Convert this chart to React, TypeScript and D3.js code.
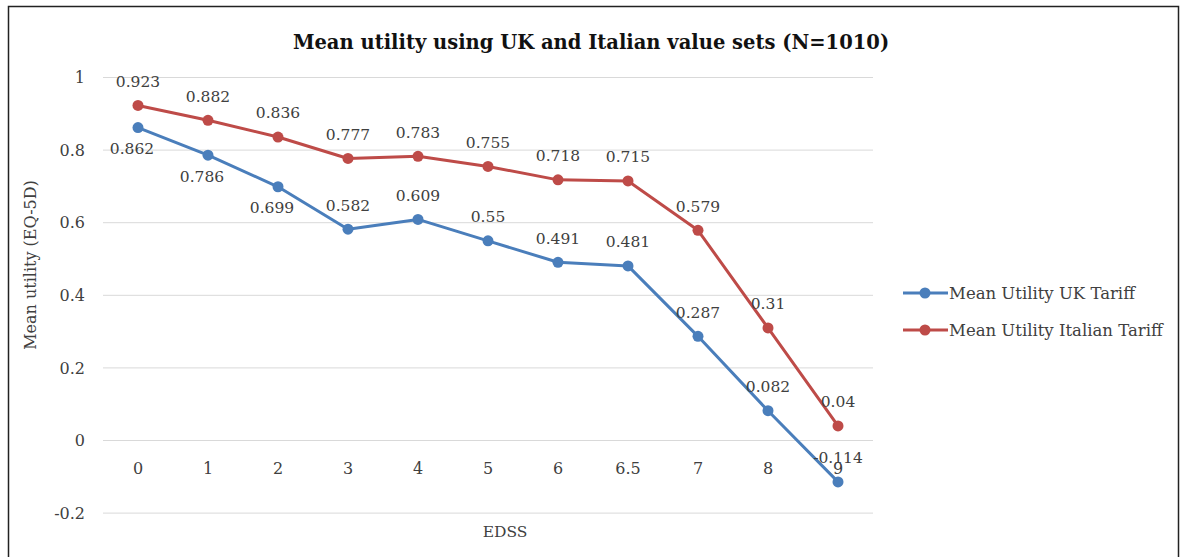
import React from "react";
import * as d3 from "d3";

const categories = ["0", "1", "2", "3", "4", "5", "6", "6.5", "7", "8", "9"];
const ukValues = [0.862, 0.786, 0.699, 0.582, 0.609, 0.55, 0.491, 0.481, 0.287, 0.082, -0.114];
const italianValues = [0.923, 0.882, 0.836, 0.777, 0.783, 0.755, 0.718, 0.715, 0.579, 0.31, 0.04];
const yTicks = [-0.2, 0, 0.2, 0.4, 0.6, 0.8, 1];
const ukBelowCategories = ["0", "1", "2"];

const W = 1186;
const H = 557;
const FONT = "'DejaVu Serif', serif";
const TEXT = "#404040";
const BLUE = "#4A7EBB";
const RED = "#BE4B48";

export default function App() {
  const x = d3.scaleBand().domain(categories).range([103, 873]);
  const y = d3.scaleLinear().domain([0, 1]).range([440.5, 77.5]);
  const cx = (c: string) => (x(c) as number) + x.bandwidth() / 2;
  const line = d3
    .line<number>()
    .x((_, i) => cx(categories[i]))
    .y((d) => y(d));

  const series = [
    { name: "Mean Utility UK Tariff", values: ukValues, color: BLUE },
    { name: "Mean Utility Italian Tariff", values: italianValues, color: RED },
  ];

  return (
    <div style={{ position: "absolute", left: 0, top: 0 }}>
      <svg width={W} height={H} style={{ display: "block", background: "#fff" }}>
        <rect x={8.5} y={6.5} width={1170} height={600} fill="#fff" stroke="#222" strokeWidth={1.5} />
        <text x={591} y={49} textAnchor="middle" fontFamily={FONT} fontWeight="bold" fontSize={19.5} fill="#111">
          Mean utility using UK and Italian value sets (N=1010)
        </text>
        {yTicks.map((t) => (
          <g key={t}>
            <line x1={103} x2={873} y1={y(t)} y2={y(t)} stroke="#d9d9d9" strokeWidth={1} />
            <text x={85} y={y(t)} dy="0.35em" textAnchor="end" fontFamily={FONT} fontSize={16} fill={TEXT}>
              {d3.format("")(t).replace("−", "-")}
            </text>
          </g>
        ))}
        {categories.map((c) => (
          <text key={c} x={cx(c)} y={468} dy="0.35em" textAnchor="middle" fontFamily={FONT} fontSize={16} fill={TEXT}>
            {c}
          </text>
        ))}
        <text
          transform={`translate(30,265) rotate(-90)`}
          textAnchor="middle"
          dy="0.35em"
          fontFamily={FONT}
          fontSize={16}
          fill={TEXT}
        >
          Mean utility (EQ-5D)
        </text>
        <text x={505} y={532} dy="0.35em" textAnchor="middle" fontFamily={FONT} fontSize={15.5} fill={TEXT}>
          EDSS
        </text>
        {series.map((s) => (
          <g key={s.name}>
            <path d={line(s.values) || ""} fill="none" stroke={s.color} strokeWidth={3} strokeLinejoin="round" />
            {s.values.map((v, i) => (
              <circle key={i} cx={cx(categories[i])} cy={y(v)} r={5.5} fill={s.color} />
            ))}
          </g>
        ))}
        {series.map((s) =>
          s.values.map((v, i) => {
            const below = s.color === BLUE && ukBelowCategories.includes(categories[i]);
            return (
              <text
                key={s.name + i}
                x={cx(categories[i]) + (below ? -6 : 0)}
                y={y(v) + (below ? 21 : -24)}
                dy="0.35em"
                textAnchor="middle"
                fontFamily={FONT}
                fontSize={15.5}
                fill={TEXT}
              >
                {String(v)}
              </text>
            );
          })
        )}
        {series.map((s, i) => {
          const ly = 293 + i * 37;
          return (
            <g key={s.name}>
              <line x1={903} x2={948} y1={ly} y2={ly} stroke={s.color} strokeWidth={3} />
              <circle cx={925} cy={ly} r={5.5} fill={s.color} />
              <text x={949} y={ly} dy="0.35em" fontFamily={FONT} fontSize={16.5} fill={TEXT}>
                {s.name}
              </text>
            </g>
          );
        })}
      </svg>
    </div>
  );
}
